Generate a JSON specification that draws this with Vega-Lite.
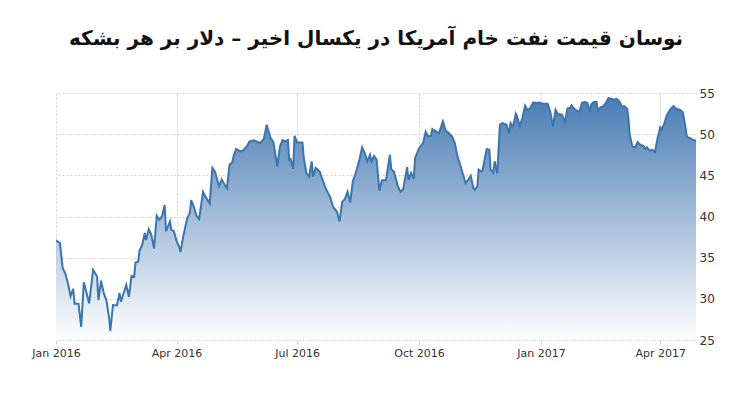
{
  "$schema": "https://vega.github.io/schema/vega-lite/v6.json",
  "width": 640,
  "height": 247,
  "autosize": {"type": "none"},
  "padding": {"left": 56, "top": 93, "right": 54, "bottom": 60},
  "background": "white",
  "title": {
    "text": "نوسان قیمت نفت خام آمریکا در یکسال اخیر – دلار بر هر بشکه",
    "font": "DejaVu Sans",
    "fontSize": 20,
    "fontWeight": "bold",
    "color": "#111111",
    "anchor": "middle",
    "offset": 38
  },
  "config": {"view": {"stroke": null}},
  "data": {
    "values": [
      {"d": "2016-01-01", "v": 37.07}, {"d": "2016-01-04", "v": 36.8}, {"d": "2016-01-06", "v": 33.75},
      {"d": "2016-01-08", "v": 33.1}, {"d": "2016-01-10", "v": 31.9}, {"d": "2016-01-12", "v": 30.3},
      {"d": "2016-01-14", "v": 31.2}, {"d": "2016-01-15", "v": 29.4}, {"d": "2016-01-18", "v": 29.4},
      {"d": "2016-01-20", "v": 26.6}, {"d": "2016-01-22", "v": 32.0}, {"d": "2016-01-26", "v": 29.45},
      {"d": "2016-01-29", "v": 33.5}, {"d": "2016-02-01", "v": 32.7}, {"d": "2016-02-02", "v": 29.85},
      {"d": "2016-02-04", "v": 32.2}, {"d": "2016-02-06", "v": 30.7}, {"d": "2016-02-08", "v": 29.85},
      {"d": "2016-02-10", "v": 27.8}, {"d": "2016-02-11", "v": 26.1}, {"d": "2016-02-13", "v": 29.25},
      {"d": "2016-02-16", "v": 29.2}, {"d": "2016-02-18", "v": 30.7}, {"d": "2016-02-19", "v": 29.65},
      {"d": "2016-02-23", "v": 31.7}, {"d": "2016-02-25", "v": 30.25}, {"d": "2016-02-27", "v": 32.8},
      {"d": "2016-02-29", "v": 32.7}, {"d": "2016-03-01", "v": 34.4}, {"d": "2016-03-03", "v": 34.5},
      {"d": "2016-03-04", "v": 35.8}, {"d": "2016-03-06", "v": 36.55}, {"d": "2016-03-08", "v": 38.0},
      {"d": "2016-03-09", "v": 37.15}, {"d": "2016-03-11", "v": 38.45}, {"d": "2016-03-13", "v": 37.75},
      {"d": "2016-03-15", "v": 36.1}, {"d": "2016-03-17", "v": 40.1}, {"d": "2016-03-19", "v": 39.6},
      {"d": "2016-03-21", "v": 40.0}, {"d": "2016-03-23", "v": 41.4}, {"d": "2016-03-24", "v": 38.2},
      {"d": "2016-03-27", "v": 39.4}, {"d": "2016-03-28", "v": 38.4}, {"d": "2016-03-30", "v": 38.2},
      {"d": "2016-04-01", "v": 37.0}, {"d": "2016-04-03", "v": 36.3}, {"d": "2016-04-04", "v": 35.7},
      {"d": "2016-04-06", "v": 37.55}, {"d": "2016-04-09", "v": 39.8}, {"d": "2016-04-11", "v": 40.4},
      {"d": "2016-04-12", "v": 42.0}, {"d": "2016-04-14", "v": 41.2}, {"d": "2016-04-16", "v": 40.1},
      {"d": "2016-04-18", "v": 39.7}, {"d": "2016-04-21", "v": 43.0}, {"d": "2016-04-23", "v": 42.35},
      {"d": "2016-04-26", "v": 41.6}, {"d": "2016-04-28", "v": 45.9}, {"d": "2016-04-30", "v": 45.45},
      {"d": "2016-05-03", "v": 43.7}, {"d": "2016-05-05", "v": 44.5}, {"d": "2016-05-07", "v": 43.95},
      {"d": "2016-05-09", "v": 43.45}, {"d": "2016-05-11", "v": 46.3}, {"d": "2016-05-13", "v": 46.55},
      {"d": "2016-05-14", "v": 47.3}, {"d": "2016-05-16", "v": 48.2}, {"d": "2016-05-19", "v": 47.9},
      {"d": "2016-05-21", "v": 48.0}, {"d": "2016-05-24", "v": 48.5}, {"d": "2016-05-26", "v": 49.1},
      {"d": "2016-05-29", "v": 49.25}, {"d": "2016-06-01", "v": 49.1}, {"d": "2016-06-03", "v": 48.9},
      {"d": "2016-06-06", "v": 49.5}, {"d": "2016-06-08", "v": 51.15}, {"d": "2016-06-11", "v": 49.5},
      {"d": "2016-06-13", "v": 49.1}, {"d": "2016-06-16", "v": 46.1}, {"d": "2016-06-18", "v": 48.5},
      {"d": "2016-06-20", "v": 49.3}, {"d": "2016-06-22", "v": 49.1}, {"d": "2016-06-24", "v": 49.3},
      {"d": "2016-06-25", "v": 46.9}, {"d": "2016-06-26", "v": 47.0}, {"d": "2016-06-28", "v": 45.8},
      {"d": "2016-06-29", "v": 49.8}, {"d": "2016-07-01", "v": 49.0}, {"d": "2016-07-05", "v": 49.0},
      {"d": "2016-07-06", "v": 47.1}, {"d": "2016-07-08", "v": 45.25}, {"d": "2016-07-10", "v": 44.85},
      {"d": "2016-07-12", "v": 46.7}, {"d": "2016-07-13", "v": 44.85}, {"d": "2016-07-15", "v": 45.9},
      {"d": "2016-07-18", "v": 45.45}, {"d": "2016-07-20", "v": 44.5}, {"d": "2016-07-23", "v": 43.25},
      {"d": "2016-07-26", "v": 42.35}, {"d": "2016-07-28", "v": 41.2}, {"d": "2016-07-31", "v": 40.6},
      {"d": "2016-08-02", "v": 39.4}, {"d": "2016-08-04", "v": 41.8}, {"d": "2016-08-06", "v": 42.1},
      {"d": "2016-08-08", "v": 43.0}, {"d": "2016-08-10", "v": 41.7}, {"d": "2016-08-12", "v": 44.25},
      {"d": "2016-08-15", "v": 45.7}, {"d": "2016-08-17", "v": 46.9}, {"d": "2016-08-19", "v": 48.4},
      {"d": "2016-08-21", "v": 47.7}, {"d": "2016-08-23", "v": 46.7}, {"d": "2016-08-25", "v": 47.5},
      {"d": "2016-08-26", "v": 46.7}, {"d": "2016-08-28", "v": 47.35}, {"d": "2016-08-30", "v": 46.9},
      {"d": "2016-09-01", "v": 43.15}, {"d": "2016-09-03", "v": 44.4}, {"d": "2016-09-06", "v": 44.4},
      {"d": "2016-09-09", "v": 47.5}, {"d": "2016-09-10", "v": 45.75}, {"d": "2016-09-12", "v": 45.45},
      {"d": "2016-09-15", "v": 43.7}, {"d": "2016-09-17", "v": 43.0}, {"d": "2016-09-19", "v": 43.3},
      {"d": "2016-09-22", "v": 46.0}, {"d": "2016-09-23", "v": 44.45}, {"d": "2016-09-25", "v": 45.3},
      {"d": "2016-09-27", "v": 44.6}, {"d": "2016-09-28", "v": 47.1}, {"d": "2016-09-29", "v": 47.5},
      {"d": "2016-10-01", "v": 48.3}, {"d": "2016-10-02", "v": 48.5}, {"d": "2016-10-04", "v": 48.9},
      {"d": "2016-10-06", "v": 50.3}, {"d": "2016-10-08", "v": 49.7}, {"d": "2016-10-10", "v": 49.8},
      {"d": "2016-10-11", "v": 50.6}, {"d": "2016-10-14", "v": 50.3}, {"d": "2016-10-16", "v": 50.1},
      {"d": "2016-10-19", "v": 51.55}, {"d": "2016-10-21", "v": 50.45}, {"d": "2016-10-23", "v": 50.2},
      {"d": "2016-10-26", "v": 49.7}, {"d": "2016-10-28", "v": 48.9}, {"d": "2016-10-30", "v": 47.3},
      {"d": "2016-11-01", "v": 46.3}, {"d": "2016-11-04", "v": 44.65}, {"d": "2016-11-05", "v": 44.05},
      {"d": "2016-11-07", "v": 44.45}, {"d": "2016-11-09", "v": 44.95}, {"d": "2016-11-11", "v": 43.45},
      {"d": "2016-11-12", "v": 43.25}, {"d": "2016-11-14", "v": 43.65}, {"d": "2016-11-15", "v": 45.7},
      {"d": "2016-11-17", "v": 45.45}, {"d": "2016-11-18", "v": 45.7}, {"d": "2016-11-21", "v": 48.2},
      {"d": "2016-11-23", "v": 48.1}, {"d": "2016-11-24", "v": 45.7}, {"d": "2016-11-26", "v": 45.35},
      {"d": "2016-11-27", "v": 46.7}, {"d": "2016-11-29", "v": 45.25}, {"d": "2016-12-01", "v": 51.15},
      {"d": "2016-12-03", "v": 51.35}, {"d": "2016-12-06", "v": 51.15}, {"d": "2016-12-08", "v": 50.1},
      {"d": "2016-12-09", "v": 51.35}, {"d": "2016-12-11", "v": 50.95}, {"d": "2016-12-13", "v": 52.5},
      {"d": "2016-12-14", "v": 52.15}, {"d": "2016-12-16", "v": 51.0}, {"d": "2016-12-18", "v": 52.0},
      {"d": "2016-12-20", "v": 53.45}, {"d": "2016-12-22", "v": 52.9}, {"d": "2016-12-24", "v": 53.2},
      {"d": "2016-12-26", "v": 53.85}, {"d": "2016-12-29", "v": 53.8}, {"d": "2016-12-31", "v": 53.85},
      {"d": "2017-01-02", "v": 53.7}, {"d": "2017-01-04", "v": 53.7}, {"d": "2017-01-06", "v": 53.7},
      {"d": "2017-01-08", "v": 52.75}, {"d": "2017-01-10", "v": 50.95}, {"d": "2017-01-12", "v": 52.95},
      {"d": "2017-01-14", "v": 52.35}, {"d": "2017-01-15", "v": 52.45}, {"d": "2017-01-17", "v": 52.35},
      {"d": "2017-01-19", "v": 51.45}, {"d": "2017-01-21", "v": 53.1}, {"d": "2017-01-23", "v": 53.2},
      {"d": "2017-01-24", "v": 53.5}, {"d": "2017-01-26", "v": 53.1}, {"d": "2017-01-28", "v": 52.85},
      {"d": "2017-01-30", "v": 52.75}, {"d": "2017-02-01", "v": 53.8}, {"d": "2017-02-03", "v": 53.9},
      {"d": "2017-02-05", "v": 53.8}, {"d": "2017-02-07", "v": 52.75}, {"d": "2017-02-08", "v": 53.65},
      {"d": "2017-02-10", "v": 53.9}, {"d": "2017-02-12", "v": 53.9}, {"d": "2017-02-13", "v": 52.85},
      {"d": "2017-02-15", "v": 53.25}, {"d": "2017-02-17", "v": 53.4}, {"d": "2017-02-19", "v": 53.8},
      {"d": "2017-02-21", "v": 54.4}, {"d": "2017-02-23", "v": 54.3}, {"d": "2017-02-25", "v": 54.2},
      {"d": "2017-02-27", "v": 54.3}, {"d": "2017-03-01", "v": 54.0}, {"d": "2017-03-03", "v": 53.4},
      {"d": "2017-03-05", "v": 53.4}, {"d": "2017-03-07", "v": 53.1}, {"d": "2017-03-08", "v": 51.95},
      {"d": "2017-03-09", "v": 49.9}, {"d": "2017-03-11", "v": 48.5}, {"d": "2017-03-13", "v": 48.4},
      {"d": "2017-03-15", "v": 49.05}, {"d": "2017-03-17", "v": 48.7}, {"d": "2017-03-19", "v": 48.6},
      {"d": "2017-03-21", "v": 48.2}, {"d": "2017-03-22", "v": 48.4}, {"d": "2017-03-24", "v": 48.0},
      {"d": "2017-03-26", "v": 48.1}, {"d": "2017-03-28", "v": 47.8}, {"d": "2017-03-30", "v": 49.5},
      {"d": "2017-04-01", "v": 50.8}, {"d": "2017-04-02", "v": 50.55}, {"d": "2017-04-04", "v": 51.25},
      {"d": "2017-04-06", "v": 52.3}, {"d": "2017-04-09", "v": 53.1}, {"d": "2017-04-11", "v": 53.4},
      {"d": "2017-04-13", "v": 53.1}, {"d": "2017-04-16", "v": 52.95}, {"d": "2017-04-18", "v": 52.7},
      {"d": "2017-04-20", "v": 50.95}, {"d": "2017-04-21", "v": 49.7}, {"d": "2017-04-24", "v": 49.45},
      {"d": "2017-04-26", "v": 49.3}, {"d": "2017-04-28", "v": 49.2}
    ]
  },
  "encoding": {
    "x": {
      "field": "d",
      "type": "temporal",
      "scale": {"domain": [{"year": 2016, "month": 1, "date": 1}, {"year": 2017, "month": 4, "date": 28}]},
      "axis": {
        "title": null,
        "format": "%b %Y",
        "tickCount": {"interval": "month", "step": 3},
        "grid": true,
        "gridDash": [2, 2],
        "gridColor": "#cfcfcf",
        "domain": false,
        "tickColor": "#cfcfcf",
        "tickSize": 4,
        "labelFlush": false,
        "labelFont": "DejaVu Sans",
        "labelFontSize": 11,
        "labelColor": "#333333",
        "labelPadding": 3
      }
    },
    "y": {
      "field": "v",
      "type": "quantitative",
      "scale": {"domain": [25, 55], "zero": false, "nice": false},
      "axis": {
        "orient": "right",
        "title": null,
        "values": [25, 30, 35, 40, 45, 50, 55],
        "grid": true,
        "gridDash": [2, 2],
        "gridColor": "#cfcfcf",
        "domain": false,
        "ticks": false,
        "labelFlush": false,
        "labelFont": "DejaVu Sans",
        "labelFontSize": 12,
        "labelColor": "#333333",
        "labelPadding": 3
      }
    }
  },
  "layer": [
    {
      "mark": {
        "type": "area",
        "clip": true,
        "color": {
          "gradient": "linear",
          "x1": 1, "y1": 1, "x2": 1, "y2": 0,
          "stops": [
            {"offset": 0, "color": "#ffffff"},
            {"offset": 1, "color": "#4a7db4"}
          ]
        }
      },
      "encoding": {"y2": {"datum": 25}}
    },
    {
      "mark": {"type": "line", "color": "#3b75b0", "strokeWidth": 2, "clip": true},
      "encoding": {}
    }
  ]
}
